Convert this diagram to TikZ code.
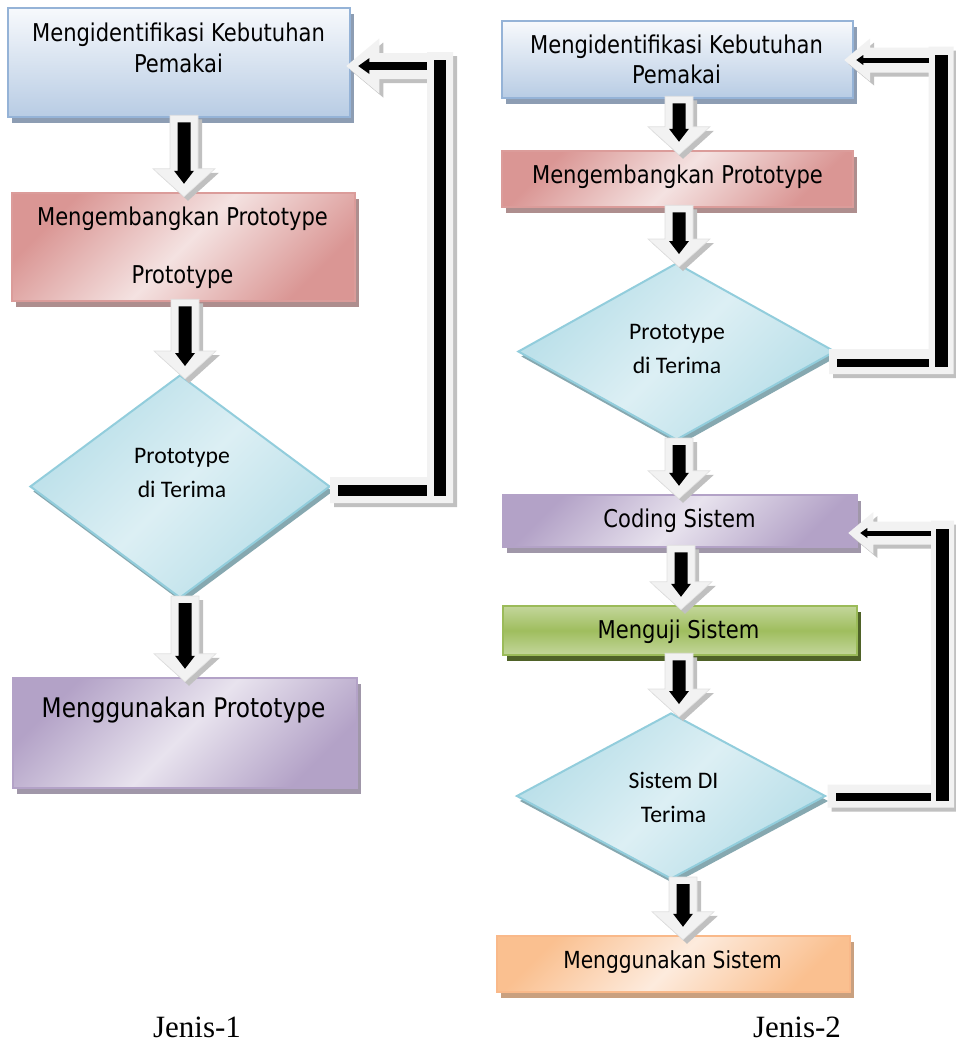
\documentclass[tikz,border=0pt]{standalone}
\usepackage{fontspec}
\setmainfont{DejaVu Sans}[FakeStretch=0.86]
\newfontfamily\calfont{Carlito}
\newfontfamily\capfont{Liberation Serif}
\usetikzlibrary{calc,shapes.geometric,shadows}

\definecolor{blueTop}{HTML}{F7F9FC}
\definecolor{blueBot}{HTML}{B8CCE4}
\definecolor{blueLine}{HTML}{95B3D7}
\definecolor{blueShd}{HTML}{8D9DB3}
\definecolor{redDark}{HTML}{DA9694}
\definecolor{redLight}{HTML}{F4E2E1}
\definecolor{redLine}{HTML}{DB9C9A}
\definecolor{redShd}{HTML}{AE8E8E}
\definecolor{purDark}{HTML}{B3A2C7}
\definecolor{purLight}{HTML}{E8E3EE}
\definecolor{purLine}{HTML}{B3A2C7}
\definecolor{purShd}{HTML}{A097A9}
\definecolor{grnLight}{HTML}{C3D69B}
\definecolor{grnMid}{HTML}{9FBE5E}
\definecolor{grnLine}{HTML}{9BBB59}
\definecolor{grnShd}{HTML}{4F6228}
\definecolor{orgDark}{HTML}{FAC090}
\definecolor{orgLight}{HTML}{FDEBDD}
\definecolor{orgLine}{HTML}{F9B98A}
\definecolor{orgShd}{HTML}{C9A07F}
\definecolor{cyDark}{HTML}{B7DEE8}
\definecolor{cyLight}{HTML}{DCEFF4}
\definecolor{cyLine}{HTML}{92CDDC}
\definecolor{cyShd}{HTML}{86A8B0}
\definecolor{bandFill}{HTML}{F2F2F2}
\definecolor{bandShd}{HTML}{C0C0C0}

% outline of a downward block arrow: #1 top of shaft, #2 tip,
% #3 half width of shaft, #4 half width of head, #5 length of head
\newcommand\downshape[5]{($(#1)+(-#3,0)$) -- ($(#1)+(#3,0)$) -- ($(#2)+(#3,-#5)$)
  -- ($(#2)+(#4,-#5)$) -- (#2) -- ($(#2)+(-#4,-#5)$) -- ($(#2)+(-#3,-#5)$) -- cycle}

% hollow block arrow with a black arrow inside, from node #1 down to node #2
% (#3 shifts the axis sideways from #1.south)
\newcommand\blockdown[3]{%
  \coordinate (bt) at ($(#1.south)+(#3,-3)$);
  \coordinate (bp) at ($(bt |- #2.north)+(0,5)$);
  \fill[bandShd,transform canvas={shift={(4pt,-4pt)}}] \downshape{bt}{bp}{14}{31}{28};
  \fill[bandFill,draw=black!12,line width=0.6pt] \downshape{bt}{bp}{14}{31}{28};
  \coordinate (bt2) at ($(bt)+(0,7)$);
  \coordinate (bp2) at ($(bp)+(0,-13)$);
  \fill[black] \downshape{bt2}{bp2}{6.5}{10}{13};
}

% return path from decision #1 back to box #2 along a riser at x=#3
% #4 tip offset from #2.east, #5 start offset from #1.east,
% #6 half width of the light band, #7 half width of the black riser,
% #8 half height of the light head, #9 half thickness of the black top line
\newcommand\loopback[9]{%
  \pgfmathsetmacro\lhl{1.2*#8}%
  \pgfmathsetmacro\lbh{2*#9}%
  \pgfmathsetmacro\lbl{1.4*\lbh}%
  \pgfmathsetmacro\lbb{#9+1.5}%
  \coordinate (lt) at ($(#2.east)+(#4)$);
  \coordinate (ls) at ($(#1.east)+(#5)$);
  \coordinate (lx) at (#3,0);
  \coordinate (ltop) at ($(lx |- lt)+(0,{-#6-1})$);
  \coordinate (lbot) at ($(lx |- ls)+(0,#6)$);
  \def\bandpath{($(ls)+(0,-#6)$) rectangle ($(lbot)+(#6,0)$)
    ($(ltop)+(-#6,0)$) rectangle ($(lbot)+(#6,0)$)
    ($(lt)+(\lhl,-#6)$) rectangle ($(lx |- lt)+(-#6,#6)$)
    (lt) -- ($(lt)+(\lhl,-#8)$) -- ($(lt)+(\lhl,#8)$) -- cycle}%
  \fill[bandShd,transform canvas={shift={(4pt,-4pt)}}] \bandpath;
  \fill[bandFill] \bandpath;
  \fill[black] ($(ltop)+(-#7,8)$) rectangle ($(lbot)+(#7,-7)$);
  \fill[black] ($(ls |- lbot)+(8,-7)$) rectangle ($(lbot)+({-#6},{-7-2*\lbb})$);
  \fill[black] ($(lt)+({12+\lbl},-#9)$) rectangle ($(lx |- lt)+(-#6,#9)$);
  \fill[black] ($(lt)+(12,0)$) -- ($(lt)+({12+\lbl},-\lbh)$) -- ($(lt)+({12+\lbl},\lbh)$) -- cycle;
}

\begin{document}
\begin{tikzpicture}[x=1pt,y=-1pt,
  box/.style={rectangle,inner sep=0pt,line width=2.5pt},
  shd/.style={drop shadow={shadow xshift=4pt,shadow yshift=-6pt,fill=#1,opacity=1}},
  bluebox/.style={box,draw=blueLine,top color=blueTop,bottom color=blueBot,shd=blueShd},
  redbox/.style={box,draw=redLine,top color=redDark,bottom color=redDark,middle color=redLight,shading angle=45,shd=redShd},
  purbox/.style={box,draw=purLine,top color=purDark,bottom color=purDark,middle color=purLight,shading angle=45,shd=purShd},
  grnbox/.style={box,draw=grnLine,top color=grnLight,bottom color=grnLight,middle color=grnMid,shd=grnShd},
  orgbox/.style={box,draw=orgLine,top color=orgDark,bottom color=orgDark,middle color=orgLight,shading angle=45,shd=orgShd},
  decision/.style={diamond,inner sep=0pt,line width=2pt,draw=cyLine,top color=cyDark,bottom color=cyDark,middle color=cyLight,shading angle=45,
    drop shadow={shadow xshift=3pt,shadow yshift=-5pt,fill=cyShd,opacity=1}},
  btext/.style={font=\fontsize{24.5}{31}\selectfont,align=center,anchor=base,inner sep=0pt},
  dtext/.style={font=\calfont\fontsize{23.7}{34}\selectfont,align=center,anchor=base,inner sep=0pt},
  captext/.style={font=\capfont\fontsize{31}{36}\selectfont,anchor=base,inner sep=0pt}]
\useasboundingbox (0,0) rectangle (956,1045);
\fill[white] (0,0) rectangle (956,1045);

% ---- Jenis-1 ----
\node[bluebox,minimum width=342pt,minimum height=109pt] (L1) at (179,62.5) {};
\node[redbox,minimum width=343pt,minimum height=108pt] (L2) at (183.5,247) {};
\node[decision,minimum width=300pt,minimum height=223pt] (Ld) at (180,486.5) {};
\node[purbox,minimum width=344pt,minimum height=110pt] (L3) at (185,733) {};

% ---- Jenis-2 ----
\node[bluebox,minimum width=351pt,minimum height=77pt] (R1) at (677.5,59.5) {};
\node[redbox,minimum width=351pt,minimum height=56pt] (R2) at (677.5,179) {};
\node[decision,minimum width=317pt,minimum height=177pt] (Rd1) at (676.5,351.5) {};
\node[purbox,minimum width=354pt,minimum height=52pt] (R3) at (680,521) {};
\node[grnbox,minimum width=354pt,minimum height=49pt] (R4) at (680,630.5) {};
\node[decision,minimum width=309pt,minimum height=166pt] (Rd2) at (671,796) {};
\node[orgbox,minimum width=353pt,minimum height=56pt] (R5) at (673.5,964) {};

% ---- flow arrows ----
\blockdown{L1}{L2}{5}
\blockdown{L2}{Ld}{1.5}
\blockdown{Ld}{L3}{5}
\blockdown{R1}{R2}{1.5}
\blockdown{R2}{Rd1}{1.5}
\blockdown{Rd1}{R3}{2.5}
\blockdown{R3}{R4}{1}
\blockdown{R4}{Rd2}{-1}
\blockdown{Rd2}{R5}{12}

% ---- return paths ----
\loopback{Ld}{L1}{440}{-5,3.5}{-1,3.5}{13}{6}{27.5}{4}
\loopback{Rd1}{R1}{941}{-10,0.5}{-7,10}{12.5}{6.5}{21.5}{2.5}
\loopback{Rd2}{R3}{942.5}{-10,12}{1,0}{11.5}{6.5}{21}{2.5}

% ---- labels ----
\node[btext] (tL1) at (178.5,72) {Mengidentifikasi Kebutuhan\\Pemakai};
\node[btext] (tL2) at (182.5,283) {Mengembangkan Prototype\\[27pt]Prototype};
\node[dtext] (tLd) at (182,497) {Prototype\\di Terima};
\node[btext,font=\fontsize{27}{32}\selectfont] (tL3) at (183.5,717) {Menggunakan Prototype};
\node[btext,font=\fontsize{24.5}{30}\selectfont] (tR1) at (676.5,83) {Mengidentifikasi Kebutuhan\\Pemakai};
\node[btext] (tR2) at (677.5,183) {Mengembangkan Prototype};
\node[dtext,font=\calfont\fontsize{23.7}{33.5}\selectfont] (tRd1) at (677,373) {Prototype\\di Terima};
\node[btext] (tR3) at (679.5,527) {Coding Sistem};
\node[btext] (tR4) at (678.5,638) {Menguji Sistem};
\node[dtext] (tRd2) at (673.5,822) {Sistem DI\\Terima};
\node[btext,font=\fontsize{23.5}{30}\selectfont] (tR5) at (672.5,968) {Menggunakan Sistem};
\node[captext] (cap1) at (197,1037) {Jenis-1};
\node[captext] (cap2) at (797,1037) {Jenis-2};
\end{tikzpicture}
\end{document}
